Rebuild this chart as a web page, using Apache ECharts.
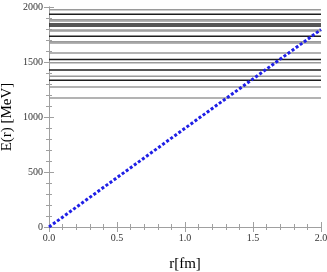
<!DOCTYPE html>
<html>
<head>
<meta charset="utf-8">
<script src="https://cdn.jsdelivr.net/npm/echarts@6/dist/echarts.min.js"></script>
<style>
html,body{margin:0;padding:0;background:#fff;}
#chart{width:327px;height:272px;}
</style>
</head>
<body>
<div id="chart"></div>
<script>
// energy levels (MeV)
var blackLevels = [1934, 1846, 1827, 1734, 1522, 1427, 1334];
var grayLevels  = [1976, 1885, 1873, 1791, 1782, 1685, 1673, 1582, 1494, 1370, 1273, 1173];

// E(r) curve
var rValues = [0, 2];
var eValues = [0, 1795];

var xTicks = ['0.0', '0.5', '1.0', '1.5', '2.0'];
var yTicks = ['0', '500', '1000', '1500', '2000'];

var FONT = '"Liberation Serif", "DejaVu Serif", serif';
var frame = '#a0a0a0';

function level(e, color){
    return {
        type : 'line',
        data : [[0, e], [2, e]],
        symbol : 'none',
        silent : true,
        lineStyle : { color : color, width : 1.5 },
        z : 2
    };
}

var series = [];
grayLevels.forEach(function(e){ series.push(level(e, '#9a9a9a')); });
blackLevels.forEach(function(e){ series.push(level(e, '#1e1e1e')); });

series.push({
    type : 'line',
    data : rValues.map(function(r, i){ return [r, eValues[i]]; }),
    symbol : 'none',
    lineStyle : { color : '#1f1fe6', width : 3, type : [3, 2] },
    z : 5
});

function axisBase(pos, showLabel, fmt){
    return {
        type : 'value',
        position : pos,
        axisLine : { show : true, lineStyle : { color : frame, width : 1 } },
        axisTick : { show : true, inside : true, length : 5, lineStyle : { color : frame } },
        minorTick : { show : true, splitNumber : 5, length : 3, lineStyle : { color : frame } },
        splitLine : { show : false },
        axisLabel : {
            show : showLabel,
            fontFamily : FONT,
            fontSize : 10,
            color : '#333',
            formatter : fmt
        }
    };
}

var xBottom = axisBase('bottom', true, function(v){ return xTicks[Math.round(v / 0.5)]; });
xBottom.min = 0; xBottom.max = 2; xBottom.interval = 0.5;
xBottom.axisLabel.margin = 6;
xBottom.name = 'r[fm]';
xBottom.nameLocation = 'middle';
xBottom.nameGap = 30;
xBottom.nameMoveOverlap = false;
xBottom.nameTextStyle = { fontFamily : FONT, fontSize : 15, color : '#000' };

var xTop = axisBase('top', false);
xTop.min = 0; xTop.max = 2; xTop.interval = 0.5;

var yLeft = axisBase('left', true, function(v){ return yTicks[Math.round(v / 500)]; });
yLeft.min = 0; yLeft.max = 2000; yLeft.interval = 500;
yLeft.axisLabel.margin = 6;
yLeft.name = 'E(r) [MeV]';
yLeft.nameLocation = 'middle';
yLeft.nameGap = 34;
yLeft.nameMoveOverlap = false;
yLeft.nameTextStyle = { fontFamily : FONT, fontSize : 15, color : '#000' };

var yRight = axisBase('right', false);
yRight.min = 0; yRight.max = 2000; yRight.interval = 500;

var myChart = echarts.init(document.getElementById('chart'));
myChart.setOption({
    animation : false,
    grid : { left : 49, right : 6, top : 7, bottom : 45, outerBoundsMode : 'none' },
    xAxis : [xBottom, xTop],
    yAxis : [yLeft, yRight],
    series : series
});
</script>
</body>
</html>
